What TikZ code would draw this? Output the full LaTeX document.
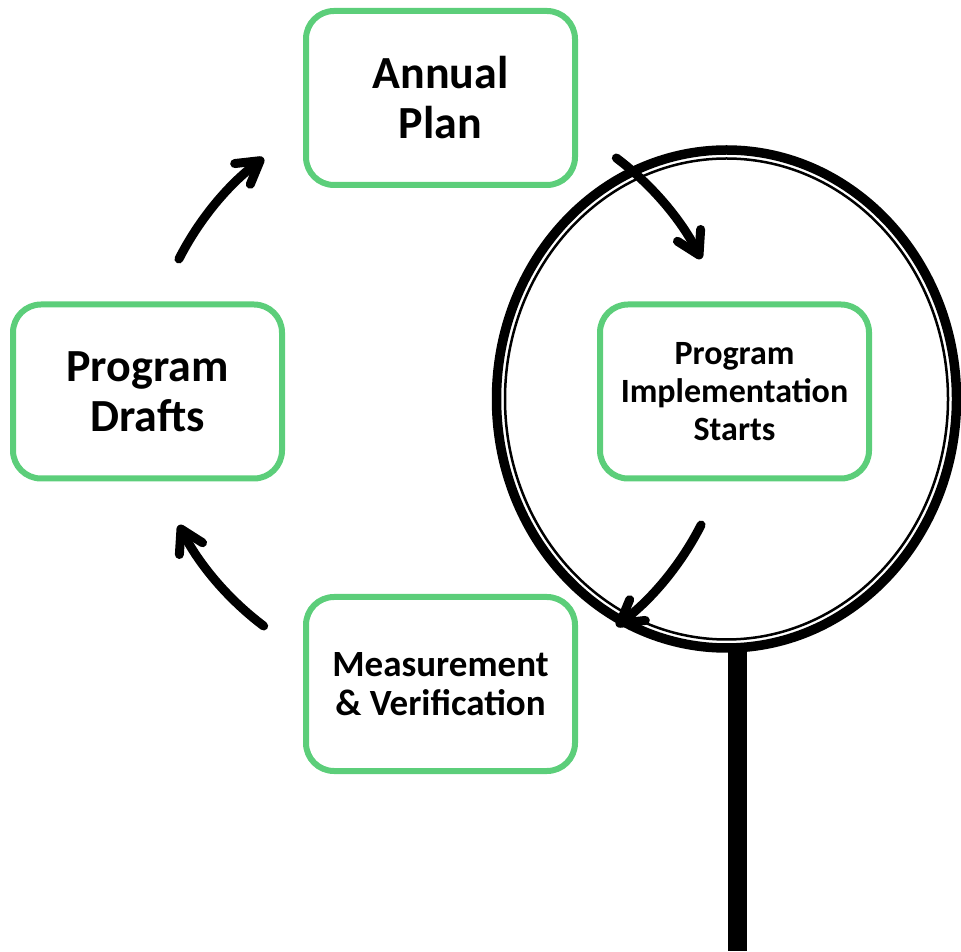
\documentclass[tikz,border=0pt]{standalone}
\usepackage{fontspec}
\setmainfont{Carlito}
\usetikzlibrary{arrows.meta}
\definecolor{boxgreen}{RGB}{92,206,122}

\begin{document}
\begin{tikzpicture}[x=1pt, y=1pt,
  step box/.style={draw=boxgreen, line width=6pt, rounded corners=28pt,
    minimum width=269pt, minimum height=174pt, align=center},
  big text/.style={font=\bfseries\fontsize{46}{50}\selectfont},
  small text/.style={font=\bfseries\fontsize{34}{38}\selectfont},
  flow/.style={line width=9pt, line cap=round,
    -{Straight Barb[length=22pt, width=26pt, line cap=round, line join=round]}},
  lens/.style={line width=9.5pt}]
  \useasboundingbox (0,0) rectangle (961,951);
  % the four steps
  \node[step box, big text]   (plan)    at (440.5,853)   {Annual\\Plan};
  \node[step box, big text]   (drafts)  at (147.5,559.5) {Program\\Drafts};
  \node[step box, small text] (impl)    at (734.5,559.5) {Program\\Implementation\\Starts};
  \node[step box, font=\bfseries\fontsize{37}{39}\selectfont]
                              (measure) at (440.5,267)   {Measurement\\\& Verification};
  % magnifier
  \coordinate (lens) at (726.5,552);
  \coordinate (grip top) at (737,300);
  \coordinate (grip end) at (737,0);
  \draw[line width=19pt] (grip top) -- (grip end);
  \draw[lens] (lens) ellipse [x radius=230, y radius=249];
  \draw[line width=2.5pt] (lens) ellipse [x radius=221.5, y radius=240.5];
  % cycle arrows
  \coordinate (hub) at (440,559);
  \draw[flow] ([shift={(153:293)}]hub) arc [start angle=153, end angle=127, radius=293];
  \draw[flow] ([shift={(53:293)}]hub) arc [start angle=53, end angle=27, radius=293];
  \draw[flow] ([shift={(-27:293)}]hub) arc [start angle=-27, end angle=-53, radius=293];
  \draw[flow] ([shift={(233:293)}]hub) arc [start angle=233, end angle=207, radius=293];
\end{tikzpicture}
\end{document}
